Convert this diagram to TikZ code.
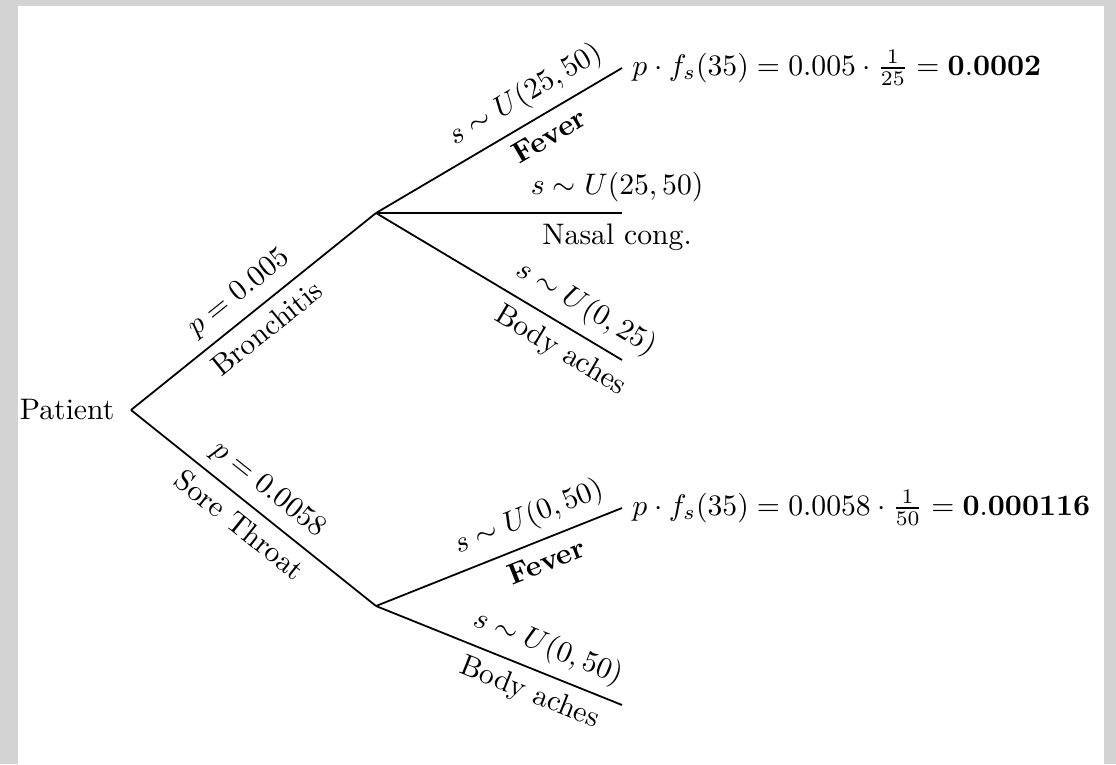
\documentclass[tikz,border=0pt]{standalone}
\usepackage{amsmath}
\usepackage{amssymb}
\usepackage{tikz}
\usetikzlibrary{positioning}
\definecolor{framegray}{HTML}{D3D3D3}

\begin{document}
\begin{tikzpicture}[x=0.337pt, y=-0.337pt, every edge/.style={draw, line width=0.6pt},
  up/.style={sloped, above}, down/.style={sloped, below}]
\path[use as bounding box] (0,0) rectangle (1116,764);
\fill[framegray] (0,0) rectangle (1116,764);
\fill[white] (18,6) rectangle (1104,764);
\node[anchor=east, inner xsep=5.4pt] (patient) at (131,410) {Patient};
\coordinate (bron) at (376,213);
\coordinate (sore) at (376,606);
\node[anchor=west] (feverB) at (622,68) {$p\cdot f_s(35)=0.005\cdot\frac{1}{25}=\mathbf{0.0002}$};
\coordinate (nasalB) at (622,213);
\coordinate (bodyB) at (622,360);
\node[anchor=west] (feverS) at (622,508) {$p\cdot f_s(35)=0.0058\cdot\frac{1}{50}=\mathbf{0.000116}$};
\coordinate (bodyS) at (622,705);
\path (patient.east) edge node[up, pos=0.5] {$p=0.005$} node[down, pos=0.5] {Bronchitis} (bron);
\path (patient.east) edge node[up, pos=0.5] {$p=0.0058$} node[down, pos=0.5] {Sore Throat} (sore);
\path (bron) edge node[up, pos=0.66] {$s\sim U(25,50)$} node[down, pos=0.66] {\textbf{Fever}} (feverB.west);
\path (bron) edge node[up, pos=0.98] {$s\sim U(25,50)$} node[down, pos=0.98] {Nasal cong.} (nasalB);
\path (bron) edge node[up, pos=0.8] {$s\sim U(0,25)$} node[down, pos=0.8] {Body aches} (bodyB);
\path (sore) edge node[up, pos=0.66] {$s\sim U(0,50)$} node[down, pos=0.66] {\textbf{Fever}} (feverS.west);
\path (sore) edge node[up, pos=0.66] {$s\sim U(0,50)$} node[down, pos=0.66] {Body aches} (bodyS);
\end{tikzpicture}
\end{document}
